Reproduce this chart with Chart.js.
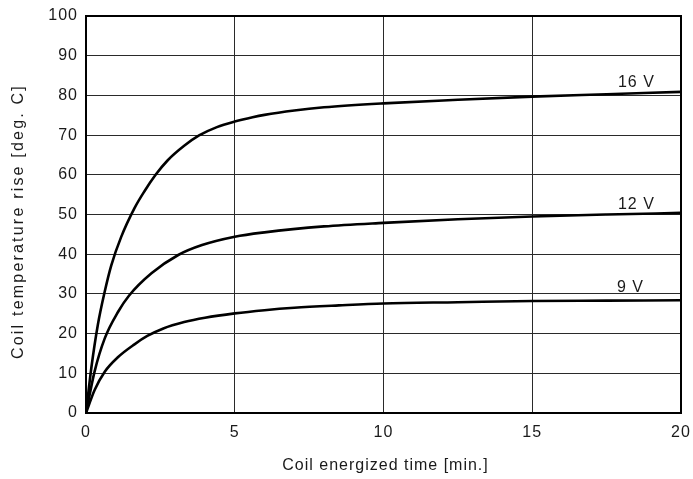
<!DOCTYPE html>
<html>
<head>
<meta charset="utf-8">
<script src="https://cdn.jsdelivr.net/npm/chart.js@4/dist/chart.umd.min.js"></script>
<style>
  html, body { margin: 0; padding: 0; background: #fff; }
  #wrap { width: 693px; height: 479px; }
</style>
</head>
<body>
<div id="wrap"><canvas id="c" width="693" height="479"></canvas></div>
<script>
// Coil temperature rise vs. energized time for three supply voltages
const times16 = [0, 0.18, 0.4, 0.63, 0.85, 1.18, 1.63, 1.96, 2.34, 2.74, 3.3, 3.8, 4.4, 5, 5.6, 6, 7, 8, 10, 12.5, 15, 17.5, 20];
const rise16  = [0, 11.4, 22.3, 30.6, 37.2, 44.3, 51.6, 55.8, 60.0, 63.6, 67.3, 69.9, 72.0, 73.4, 74.5, 75.1, 76.2, 77.0, 78.0, 78.9, 79.7, 80.3, 80.9];

const times12 = [0, 0.29, 0.63, 1.08, 1.45, 2.2, 3.1, 3.9, 5, 6, 8, 10, 12.5, 15, 17.5, 20];
const rise12  = [0, 10.5, 18.8, 25.5, 29.6, 35.2, 39.8, 42.3, 44.4, 45.5, 47.0, 47.9, 48.8, 49.5, 50.0, 50.4];

const times9 = [0, 0.29, 0.63, 1.08, 1.63, 2.06, 2.6, 3.3, 4, 5, 6, 7, 8.5, 10, 12.5, 15, 17.5, 20];
const rise9  = [0, 5.8, 10.4, 14.1, 17.3, 19.4, 21.3, 22.9, 24.0, 25.1, 25.9, 26.5, 27.1, 27.6, 27.9, 28.2, 28.3, 28.4];

const xTicks = [0, 5, 10, 15, 20];
const yTicks = [0, 10, 20, 30, 40, 50, 60, 70, 80, 90, 100];

const xTitle = 'Coil energized time [min.]';
const yTitle = 'Coil temperature rise [deg. C]';

// Curve labels: text and anchor point in data units
const curveLabels = ['16 V', '12 V', '9 V'];
const labelX = [18.5, 18.5, 18.3];
const labelY = [83.3, 52.6, 31.7];

const toPoints = (xs, ys) => xs.map((x, i) => ({ x: x, y: ys[i] }));

const FONT = '"Liberation Sans", Arial, sans-serif';
const INK = '#1a1a1a';

// Slightly tracked lettering for every text drawn on the canvas
const tracking = {
  id: 'tracking',
  beforeDraw(chart) { chart.ctx.letterSpacing = '1px'; }
};

// Axis titles, centred on the plot area
const axisTitles = {
  id: 'axisTitles',
  afterDraw(chart) {
    const { ctx, chartArea: a } = chart;
    ctx.save();
    ctx.fillStyle = INK;
    ctx.font = '16px ' + FONT;
    ctx.textAlign = 'center';
    ctx.textBaseline = 'middle';
    ctx.letterSpacing = '1px';
    ctx.fillText(xTitle, (a.left + a.right) / 2 + 2, 466);
    ctx.translate(19, (a.top + a.bottom) / 2 + 7);
    ctx.rotate(-Math.PI / 2);
    ctx.letterSpacing = '2.2px';
    ctx.fillText(yTitle, 0, 0);
    ctx.restore();
  }
};

const curveText = {
  id: 'curveText',
  afterDatasetsDraw(chart) {
    const { ctx, scales: { x, y } } = chart;
    ctx.save();
    ctx.font = '16px ' + FONT;
    ctx.fillStyle = INK;
    ctx.letterSpacing = '1px';
    ctx.textAlign = 'center';
    ctx.textBaseline = 'middle';
    curveLabels.forEach((t, i) => {
      ctx.fillText(t, x.getPixelForValue(labelX[i]), y.getPixelForValue(labelY[i]));
    });
    ctx.restore();
  }
};

const frame = {
  id: 'frame',
  afterDatasetsDraw(chart) {
    const { ctx, chartArea: a } = chart;
    ctx.save();
    ctx.strokeStyle = '#000';
    ctx.lineWidth = 2;
    ctx.strokeRect(a.left, a.top, a.right - a.left, a.bottom - a.top);
    ctx.restore();
  }
};

const lineStyle = {
  borderColor: '#000',
  borderWidth: 2.6,
  pointRadius: 0,
  fill: false,
  cubicInterpolationMode: 'monotone'
};

new Chart(document.getElementById('c'), {
  type: 'line',
  data: {
    datasets: [
      Object.assign({ label: '16 V', data: toPoints(times16, rise16) }, lineStyle),
      Object.assign({ label: '12 V', data: toPoints(times12, rise12) }, lineStyle),
      Object.assign({ label: '9 V', data: toPoints(times9, rise9) }, lineStyle)
    ]
  },
  options: {
    responsive: false,
    animation: false,
    devicePixelRatio: 1,
    layout: { padding: { left: 0, right: 12, top: 16, bottom: 0 } },
    plugins: { legend: { display: false }, tooltip: { enabled: false } },
    scales: {
      x: {
        type: 'linear',
        min: 0, max: 20,
        afterBuildTicks: s => { s.ticks = xTicks.map(v => ({ value: v })); },
        afterFit: s => { s.height = 66; s.paddingLeft = 0; s.paddingRight = 0; },
        grid: { color: '#2a2a2a', lineWidth: 1, drawTicks: false },
        border: { display: false },
        ticks: { color: INK, font: { family: FONT, size: 16 }, padding: 10, maxRotation: 0 },
        title: { display: false }
      },
      y: {
        type: 'linear',
        min: 0, max: 100,
        afterBuildTicks: s => { s.ticks = yTicks.map(v => ({ value: v })); },
        afterFit: s => { s.width = 86; s.paddingTop = 0; s.paddingBottom = 0; },
        grid: { color: '#2a2a2a', lineWidth: 1, drawTicks: false },
        border: { display: false },
        ticks: { color: INK, font: { family: FONT, size: 16 }, padding: 8 },
        title: { display: false }
      }
    }
  },
  plugins: [tracking, frame, curveText, axisTitles]
});
</script>
</body>
</html>
